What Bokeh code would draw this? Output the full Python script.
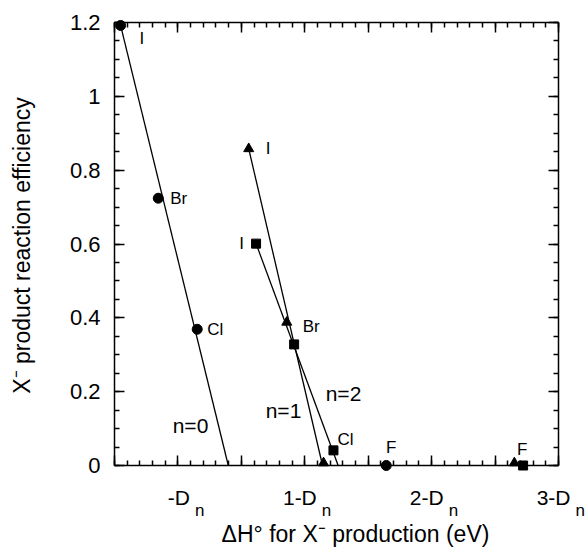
import math
from bokeh.plotting import figure
from bokeh.models import (LinearAxis, FixedTicker, CustomJSTickFormatter, Label, Range1d)
from bokeh.embed import file_html
from bokeh.resources import INLINE

# ---------------- data ----------------
x_tick_vals = [0, 1, 2, 3]
x_tick_main = ["-D", "1-D", "2-D", "3-D"]
x_tick_sub = ["n", "n", "n", "n"]
y_tick_vals = [0, 0.2, 0.4, 0.6, 0.8, 1.0, 1.2]
y_tick_labels = ["0", "0.2", "0.4", "0.6", "0.8", "1", "1.2"]

halides = ["I", "Br", "Cl", "F"]

# n = 0 (circles)
n0_x = [-0.452, -0.155, 0.152, 1.642]
n0_y = [1.192, 0.724, 0.369, 0.0]
n0_fit_x = [-0.452, 0.397]
n0_fit_y = [1.192, 0.0]

# n = 1 (triangles)
n1_x = [0.558, 0.858, 1.148, 2.652]
n1_y = [0.858, 0.388, 0.007, 0.007]
n1_fit_x = [0.558, 1.140]
n1_fit_y = [0.858, 0.0]

# n = 2 (squares)
n2_x = [0.616, 0.916, 1.226, 2.721]
n2_y = [0.601, 0.328, 0.041, 0.0]
n2_fit_x = [0.616, 1.263]
n2_fit_y = [0.601, 0.0]

series_names = ["n=0", "n=1", "n=2"]

# ---------------- layout ----------------
FONT = "Liberation Sans"
X0, X1, Y0, Y1 = -0.5, 3.0, 0.0, 1.2
W, H = 586, 552
LEFT, TOP = 114, 22          # page position of the plot box corner
PX_X = 444 / (X1 - X0)
PX_Y = 443 / (Y1 - Y0)
XR_START = X0 - LEFT / PX_X
XR_END = X0 + (W - LEFT) / PX_X
YR_END = Y1 + TOP / PX_Y
YR_START = Y1 - (H - TOP) / PX_Y

p = figure(width=W, height=H, x_range=Range1d(XR_START, XR_END), y_range=Range1d(YR_START, YR_END),
           output_backend="svg", toolbar_location=None,
           min_border_left=0, min_border_right=0, min_border_top=0, min_border_bottom=0)
p.xgrid.visible = False
p.ygrid.visible = False
p.outline_line_color = None
p.background_fill_color = "white"
p.border_fill_color = "white"
p.xaxis.visible = False
p.yaxis.visible = False

x_minor = [round(X0 + 0.1 * i, 3) for i in range(int(round((X1 - X0) / 0.1)) + 1)]
x_major = [round(X0 + 0.5 * i, 3) for i in range(int(round((X1 - X0) / 0.5)) + 1)]
y_minor = [round(0.05 * i, 3) for i in range(25)]

def make_axis(ticker, bounds, fixed):
    ax = LinearAxis(ticker=ticker, bounds=bounds, fixed_location=fixed)
    ax.axis_line_color = "black"
    ax.axis_line_width = 1.5
    ax.major_tick_line_color = "black"
    ax.minor_tick_line_color = "black"
    ax.major_tick_line_width = 1.5
    ax.minor_tick_line_width = 1.5
    ax.major_tick_in = 10
    ax.major_tick_out = 0
    ax.minor_tick_in = 5
    ax.minor_tick_out = 0
    ax.major_label_text_font_size = "0px"
    ax.major_label_standoff = 0
    ax.formatter = CustomJSTickFormatter(code="return '';")
    return ax

p.add_layout(make_axis(FixedTicker(ticks=y_tick_vals, minor_ticks=y_minor), (Y0, Y1), X0), "left")
p.add_layout(make_axis(FixedTicker(ticks=x_major, minor_ticks=x_minor), (X0, X1), Y1), "above")
p.add_layout(make_axis(FixedTicker(ticks=x_major, minor_ticks=x_minor), (X0, X1), Y0), "below")
p.add_layout(make_axis(FixedTicker(ticks=y_tick_vals, minor_ticks=y_minor), (Y0, Y1), X1), "right")

# y tick labels
for v, s in zip(y_tick_vals, y_tick_labels):
    p.add_layout(Label(x=X0, y=v, x_offset=-14, text=s, text_align="right", text_baseline="middle",
                       text_font=FONT, text_font_size="22px", text_color="black"))

# y axis title
p.add_layout(Label(x=X0 - (LEFT - 21) / PX_X, y=Y0 + (465 - 245) / PX_Y, angle=math.pi / 2,
                   text="X\u207b product reaction efficiency", text_align="center", text_baseline="middle",
                   text_font=FONT, text_font_size="23px", text_color="black"))

# x tick labels with subscripts
for t, main, sub in zip(x_tick_vals, x_tick_main, x_tick_sub):
    p.add_layout(Label(x=t, y=Y0 - 32 / PX_Y, x_offset=12, text=main,
                       text_align="right", text_baseline="alphabetic",
                       text_font=FONT, text_font_size="21px", text_color="black"))
    p.add_layout(Label(x=t, y=Y0 - 45 / PX_Y, x_offset=17, text=sub,
                       text_align="left", text_baseline="alphabetic",
                       text_font=FONT, text_font_size="17px", text_color="black"))

# x axis title
p.add_layout(Label(x=X0 + (355 - LEFT) / PX_X, y=Y0 - 68.5 / PX_Y,
                   text="\u0394H\u00b0 for X\u207b production (eV)",
                   text_align="center", text_baseline="middle",
                   text_font=FONT, text_font_size="23px", text_color="black"))

# fit lines
for fx, fy in [(n0_fit_x, n0_fit_y), (n1_fit_x, n1_fit_y), (n2_fit_x, n2_fit_y)]:
    p.line(fx, fy, line_color="black", line_width=1.3)

# markers
p.scatter(n0_x, n0_y, marker="circle", size=10, fill_color="black", line_color="black")
p.scatter(n1_x, n1_y, marker="triangle", size=10, fill_color="black", line_color="black")
p.scatter(n2_x, n2_y, marker="square", size=9, fill_color="black", line_color="black")

# point labels: (series x, series y, index, dx px, dy px (down), align)
label_specs = [
    (n0_x, n0_y, 0, 19, 13, "left"),
    (n0_x, n0_y, 1, 12, 0, "left"),
    (n0_x, n0_y, 2, 10, 0, "left"),
    (n0_x, n0_y, 3, 5, -18, "center"),
    (n1_x, n1_y, 0, 17, 0, "left"),
    (n1_x, n1_y, 1, 16, 4, "left"),
    (n2_x, n2_y, 0, -12, 0, "right"),
    (n2_x, n2_y, 2, 4, -11, "left"),
    (n2_x, n2_y, 3, -1, -16, "center"),
]
for sx, sy, i, dx, dy, al in label_specs:
    p.add_layout(Label(x=sx[i] + dx / PX_X, y=sy[i] - dy / PX_Y, text=halides[i],
                       text_align=al, text_baseline="middle",
                       text_font=FONT, text_font_size="17px", text_color="black"))

# series labels
series_pos = [(190, 424.5), (283, 409.5), (343, 392.5)]  # page px
for name, (sxp, syp) in zip(series_names, series_pos):
    p.add_layout(Label(x=X0 + (sxp - LEFT) / PX_X, y=Y0 + (465 - syp) / PX_Y, text=name,
                       text_align="center", text_baseline="middle",
                       text_font=FONT, text_font_size="21px", text_color="black"))

open("out.html", "w").write(file_html(p, INLINE))
